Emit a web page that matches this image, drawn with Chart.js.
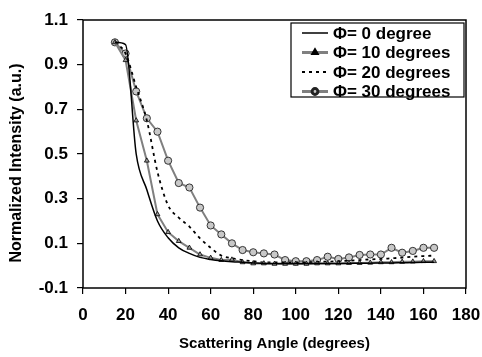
<!DOCTYPE html>
<html>
<head>
<meta charset="utf-8">
<script src="https://cdn.jsdelivr.net/npm/chart.js@4.4.1/dist/chart.umd.min.js"></script>
<style>
  html, body { margin: 0; padding: 0; background: #fff; }
  #wrap { width: 482px; height: 357px; position: relative; }
</style>
</head>
<body>
<div id="wrap"><canvas id="chart"></canvas></div>
<script>
// scattering angles (degrees)
const angles = [15, 20, 25, 30, 35, 40, 45, 50, 55, 60, 65, 70, 75, 80, 85, 90,
  95, 100, 105, 110, 115, 120, 125, 130, 135, 140, 145, 150, 155, 160, 165];

const phi0 = [1.0, 0.99, 0.50, 0.34, 0.20, 0.125, 0.08, 0.055, 0.037, 0.028, 0.022, 0.018, 0.015, 0.012, 0.01, 0.01,
  0.01, 0.01, 0.01, 0.01, 0.01, 0.01, 0.01, 0.011, 0.011, 0.012, 0.012, 0.013, 0.014, 0.015, 0.015];
const phi10 = [1.0, 0.92, 0.65, 0.47, 0.23, 0.15, 0.11, 0.08, 0.05, 0.035, 0.025, 0.027, 0.015, 0.01, 0.01, 0.008,
  0.008, 0.008, 0.008, 0.01, 0.01, 0.01, 0.012, 0.012, 0.013, 0.015, 0.015, 0.017, 0.018, 0.02, 0.02];
const phi20 = [1.0, 0.95, 0.80, 0.65, 0.42, 0.27, 0.215, 0.175, 0.122, 0.08, 0.045, 0.033, 0.025, 0.02, 0.015, 0.015,
  0.015, 0.015, 0.015, 0.017, 0.018, 0.02, 0.022, 0.025, 0.028, 0.03, 0.033, 0.036, 0.04, 0.043, 0.045];
const phi30 = [1.0, 0.95, 0.78, 0.66, 0.60, 0.47, 0.37, 0.35, 0.26, 0.18, 0.14, 0.10, 0.07, 0.06, 0.055, 0.05,
  0.025, 0.02, 0.02, 0.025, 0.04, 0.03, 0.037, 0.048, 0.05, 0.05, 0.08, 0.058, 0.066, 0.08, 0.08];

const seriesNames = ['Φ= 0 degree', 'Φ= 10 degrees', 'Φ= 20 degrees', 'Φ= 30 degrees'];
const xTicks = [0, 20, 40, 60, 80, 100, 120, 140, 160, 180];
const yTicks = [-0.1, 0.1, 0.3, 0.5, 0.7, 0.9, 1.1];

const FONT = '"Liberation Sans", Arial, sans-serif';
const yTitle = 'Normalized Intensity (a.u.)';

function pts(vals) {
  return vals.map((v, i) => ({ x: angles[i], y: v }));
}

// box round the plot area, boxed legend top right, rotated y title
const framePlugin = {
  id: 'frame',
  afterDatasetsDraw(chart) {
    const { ctx, chartArea: a } = chart;
    ctx.save();
    ctx.strokeStyle = '#000';
    ctx.lineWidth = 1.5;
    ctx.strokeRect(a.left, a.top, a.right - a.left, a.bottom - a.top);

    // y title, sits a bit lower than the plot centre in the original
    ctx.save();
    ctx.translate(17, (a.top + a.bottom) / 2 + 9);
    ctx.rotate(-Math.PI / 2);
    ctx.font = 'bold 16px ' + FONT;
    ctx.fillStyle = '#000';
    ctx.textAlign = 'center';
    ctx.textBaseline = 'middle';
    ctx.fillText(yTitle, 0, 0);
    ctx.restore();

    // legend
    const lx = a.left + 208, ly = a.top + 3, lw = 173, lh = 74;
    ctx.fillStyle = '#fff';
    ctx.fillRect(lx, ly, lw, lh);
    ctx.lineWidth = 1.2;
    ctx.strokeRect(lx, ly, lw, lh);
    ctx.font = 'bold 17px ' + FONT;
    ctx.textBaseline = 'middle';
    chart.data.datasets.forEach((ds, i) => {
      const y = ly + 10 + i * 19.5;
      const x0 = lx + 11, x1 = lx + 37;
      ctx.beginPath();
      ctx.strokeStyle = ds.borderColor;
      ctx.lineWidth = ds.legendWidth;
      ctx.setLineDash(ds.borderDash || []);
      ctx.moveTo(x0, y);
      ctx.lineTo(x1, y);
      ctx.stroke();
      ctx.setLineDash([]);
      if (ds.pointRadius > 0) {
        ctx.fillStyle = ds.pointBackgroundColor;
        ctx.strokeStyle = ds.pointBorderColor;
        Chart.helpers.drawPoint(ctx, {
          pointStyle: ds.pointStyle,
          radius: ds.pointRadius * 0.8,
          borderWidth: 1
        }, (x0 + x1) / 2, y);
      }
      ctx.fillStyle = '#000';
      ctx.fillText(ds.label, lx + 42, y + 1);
    });
    ctx.restore();
  }
};

new Chart(document.getElementById('chart'), {
  type: 'line',
  data: {
    datasets: [
      {
        label: seriesNames[0],
        data: pts(phi0),
        borderColor: '#000',
        borderWidth: 1.5,
        legendWidth: 1.5,
        pointRadius: 0,
        cubicInterpolationMode: 'monotone'
      },
      {
        label: seriesNames[1],
        data: pts(phi10),
        borderColor: '#808080',
        borderWidth: 2,
        legendWidth: 3,
        pointStyle: 'triangle',
        pointRadius: 2.8,
        pointBackgroundColor: '#9a9a9a',
        pointBorderColor: '#000',
        pointBorderWidth: 0.8,
        tension: 0
      },
      {
        label: seriesNames[2],
        data: pts(phi20),
        borderColor: '#000',
        borderWidth: 1.8,
        legendWidth: 2,
        borderDash: [3, 4],
        pointRadius: 0,
        cubicInterpolationMode: 'monotone'
      },
      {
        label: seriesNames[3],
        data: pts(phi30),
        borderColor: '#808080',
        borderWidth: 2,
        legendWidth: 3,
        pointStyle: 'circle',
        pointRadius: 3.6,
        pointBackgroundColor: '#c8c8c8',
        pointBorderColor: '#222',
        pointBorderWidth: 0.9,
        tension: 0
      }
    ]
  },
  options: {
    responsive: true,
    maintainAspectRatio: false,
    animation: false,
    layout: { padding: { top: 20, right: 16, left: 0, bottom: 0 } },
    plugins: {
      legend: { display: false },
      tooltip: { enabled: false }
    },
    scales: {
      x: {
        type: 'linear',
        min: 0,
        max: 180,
        afterBuildTicks: (s) => { s.ticks = xTicks.map(v => ({ value: v })); },
        afterFit: (s) => {
          s.height = 69;
          // keep the end labels from squeezing the plot area
          s.paddingLeft = 0;
          s.paddingRight = 0;
        },
        grid: { drawOnChartArea: false, tickLength: 6, color: '#000', lineWidth: 1.2 },
        border: { display: false },
        ticks: { color: '#000', padding: 11, maxRotation: 0, font: { family: FONT, size: 17, weight: 'bold' } },
        title: {
          display: true,
          text: 'Scattering Angle (degrees)',
          color: '#000',
          padding: { top: 2 },
          font: { family: FONT, size: 15, weight: 'bold' }
        }
      },
      y: {
        min: -0.1,
        max: 1.1,
        afterBuildTicks: (s) => { s.ticks = yTicks.map(v => ({ value: v })); },
        afterFit: (s) => {
          s.width = 83;
          s.paddingTop = 0;
          s.paddingBottom = 0;
        },
        grid: { drawOnChartArea: false, tickLength: 6, color: '#000', lineWidth: 1.2 },
        border: { display: false },
        ticks: {
          color: '#000',
          padding: 9,
          font: { family: FONT, size: 17, weight: 'bold' },
          callback: (v) => v.toFixed(1)
        },
        title: { display: false }
      }
    }
  },
  plugins: [framePlugin]
});
</script>
</body>
</html>
